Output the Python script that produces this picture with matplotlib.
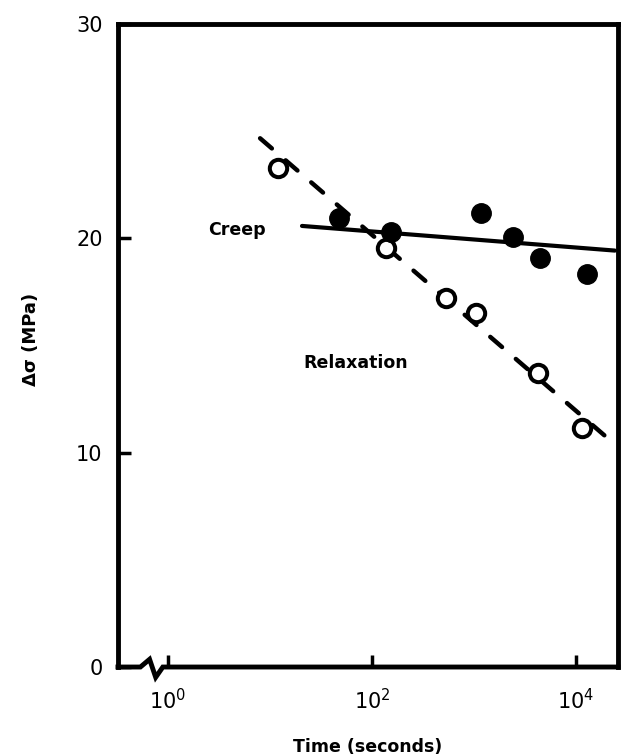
import matplotlib.pyplot as plt
import numpy as np

# relaxation (open circles) and creep (filled circles) data
relax_t = [12, 137, 532, 1050, 4260, 11400]
relax_s = [23.3, 19.55, 17.2, 16.5, 13.7, 11.15]
creep_t = [47, 152, 1180, 2400, 4420, 12700]
creep_s = [20.95, 20.3, 21.2, 20.05, 19.07, 18.34]

# fitted lines (end points)
relax_fit_t = [8.0, 22400]
relax_fit_s = [24.67, 10.51]
creep_fit_t = [20.6, 24000]
creep_fit_s = [20.58, 19.43]

x_ticks = [1, 100, 10000]
y_ticks = [0, 10, 20, 30]

plt.rcParams['font.family'] = ['DejaVu Sans']

fig = plt.figure(figsize=(6.41, 7.56), dpi=100)
ax = fig.add_axes([0.184, 0.1177, 0.78, 0.8505])

ax.set_xscale('log')
ax.set_xlim(10 ** -0.49, 10 ** 4.41)
ax.set_ylim(0, 30)

ax.plot(relax_fit_t, relax_fit_s, color='black', lw=3.2, ls=(0, (3.5, 4.1)),
        dash_capstyle='round', zorder=2)
ax.plot(creep_fit_t, creep_fit_s, color='black', lw=3.0,
        solid_capstyle='round', zorder=2)
ax.plot(relax_t, relax_s, 'o', ms=12.5, mfc='white', mec='black', mew=2.9,
        ls='none', zorder=3)
ax.plot(creep_t, creep_s, 'o', ms=14, mfc='black', mec='black',
        ls='none', zorder=4)

ax.text(237 / 641, 1 - 230 / 756, 'Creep', transform=fig.transFigure,
        fontsize=12.5, fontweight='bold', ha='center', va='center')
ax.text(356 / 641, 1 - 363 / 756, 'Relaxation', transform=fig.transFigure,
        fontsize=12.5, fontweight='bold', ha='center', va='center')

ax.set_xticks(x_ticks)
ax.minorticks_off()
ax.set_yticks(y_ticks)
ax.tick_params(direction='in', length=9, width=2.5, labelsize=15)
ax.tick_params(axis='x', pad=15)
ax.tick_params(axis='y', pad=11)

for side in ['left', 'right', 'top']:
    ax.spines[side].set_linewidth(3.5)
ax.spines['bottom'].set_visible(False)

# bottom axis line with a break mark near the left end
lx = np.array([-0.49, -0.27, -0.18, -0.12, -0.05, 4.41])
ly = np.array([0.0, 0.0, 0.012, -0.016, 0.0, 0.0])
ax.plot(10 ** lx, ly, color='black', lw=3.5, transform=ax.get_xaxis_transform(),
        clip_on=False, solid_capstyle='projecting', solid_joinstyle='miter', zorder=5)

ax.set_xlabel('Time (seconds)', fontsize=12.5, fontweight='bold')
ax.xaxis.set_label_coords(0.5, -0.111)
ax.set_ylabel('Δσ (MPa)', fontsize=13, fontweight='bold')
ax.yaxis.set_label_coords(-0.156, 0.509)

fig.savefig('out.png', dpi=100)
